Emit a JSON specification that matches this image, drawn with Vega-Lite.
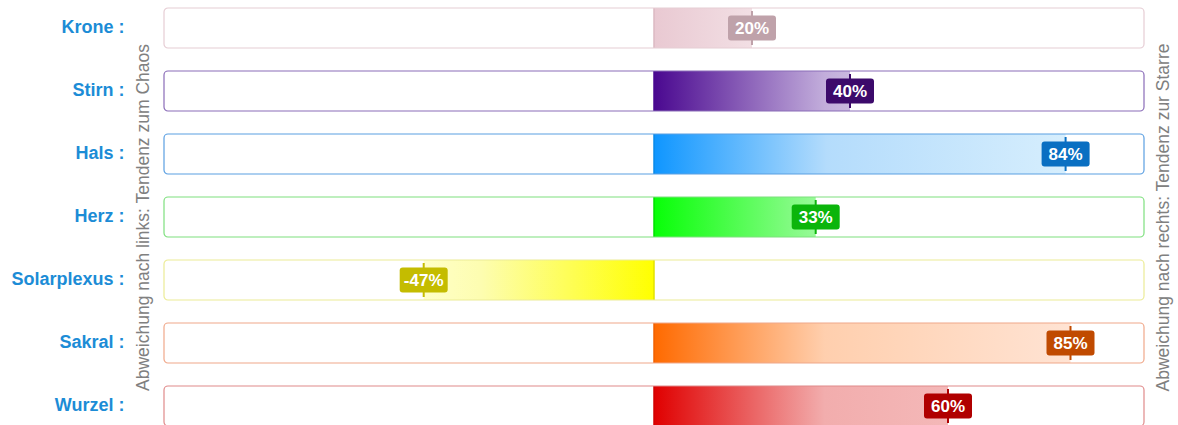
{
  "$schema": "https://vega.github.io/schema/vega-lite/v6.json",
  "width": 980,
  "height": 418,
  "autosize": {"type": "none"},
  "padding": {"left": 164, "top": 8, "right": 34, "bottom": 0},
  "background": "white",
  "config": {"view": {"stroke": null}, "font": "Liberation Sans"},
  "data": {
    "values": [
      {"row": "Krone", "value": 20, "label": "20%"},
      {"row": "Stirn", "value": 40, "label": "40%"},
      {"row": "Hals", "value": 84, "label": "84%"},
      {"row": "Herz", "value": 33, "label": "33%"},
      {"row": "Solarplexus", "value": -47, "label": "-47%"},
      {"row": "Sakral", "value": 85, "label": "85%"},
      {"row": "Wurzel", "value": 60, "label": "60%"}
    ]
  },
  "resolve": {"axis": {"y": "independent"}},
  "layer": [
    {
      "mark": {"type": "bar", "fill": "white", "strokeWidth": 0, "cornerRadius": 4},
      "encoding": {
        "y": {
          "field": "row", "type": "nominal",
          "sort": ["Krone", "Stirn", "Hals", "Herz", "Solarplexus", "Sakral", "Wurzel"],
          "scale": {"paddingInner": 0.365, "paddingOuter": 0},
          "axis": {
            "orient": "left",
            "title": "Abweichung nach links: Tendenz zum Chaos",
            "domain": false, "ticks": false, "grid": false,
            "labelPadding": 40,
            "labelFont": "Liberation Sans", "labelFontSize": 18, "labelFontWeight": "bold",
            "labelColor": "#1c8cd6",
            "labelExpr": "datum.label + ' :'",
            "titleX": -21, "titleY": 209, "titleAngle": -90,
            "titleAlign": "center", "titleBaseline": "middle",
            "titleFont": "Liberation Sans", "titleFontSize": 17.5, "titleFontWeight": "normal",
            "titleColor": "#808080"
          }
        },
        "x": {"datum": -100, "type": "quantitative", "scale": {"domain": [-100, 100], "nice": false, "zero": false}, "axis": null},
        "x2": {"datum": 100}
      }
    },
    {
      "transform": [{"filter": "datum.row === 'Krone'"}],
      "mark": {"type": "bar", "color": {"gradient": "linear", "x1": 0, "y1": 0, "x2": 1, "y2": 0, "stops": [{"offset": 0, "color": "#e9c9d2"}, {"offset": 1, "color": "#f2dfe4"}]}},
      "encoding": {"y": {"field": "row", "type": "nominal", "sort": ["Krone", "Stirn", "Hals", "Herz", "Solarplexus", "Sakral", "Wurzel"], "axis": null}, "x": {"field": "value", "type": "quantitative", "axis": null}, "x2": {"datum": 0}}
    },
    {
      "transform": [{"filter": "datum.row === 'Stirn'"}],
      "mark": {"type": "bar", "color": {"gradient": "linear", "x1": 0, "y1": 0, "x2": 1, "y2": 0, "stops": [{"offset": 0, "color": "#4a0890"}, {"offset": 0.87, "color": "#c2addb"}, {"offset": 1, "color": "#c9b8de"}]}},
      "encoding": {"y": {"field": "row", "type": "nominal", "sort": ["Krone", "Stirn", "Hals", "Herz", "Solarplexus", "Sakral", "Wurzel"], "axis": null}, "x": {"field": "value", "type": "quantitative", "axis": null}, "x2": {"datum": 0}}
    },
    {
      "transform": [{"filter": "datum.row === 'Hals'"}],
      "mark": {"type": "bar", "color": {"gradient": "linear", "x1": 0, "y1": 0, "x2": 1, "y2": 0, "stops": [{"offset": 0, "color": "#0f96ff"}, {"offset": 0.42, "color": "#b4dcfc"}, {"offset": 1, "color": "#d6eefd"}]}},
      "encoding": {"y": {"field": "row", "type": "nominal", "sort": ["Krone", "Stirn", "Hals", "Herz", "Solarplexus", "Sakral", "Wurzel"], "axis": null}, "x": {"field": "value", "type": "quantitative", "axis": null}, "x2": {"datum": 0}}
    },
    {
      "transform": [{"filter": "datum.row === 'Herz'"}],
      "mark": {"type": "bar", "color": {"gradient": "linear", "x1": 0, "y1": 0, "x2": 1, "y2": 0, "stops": [{"offset": 0, "color": "#08ff08"}, {"offset": 1, "color": "#98fa98"}]}},
      "encoding": {"y": {"field": "row", "type": "nominal", "sort": ["Krone", "Stirn", "Hals", "Herz", "Solarplexus", "Sakral", "Wurzel"], "axis": null}, "x": {"field": "value", "type": "quantitative", "axis": null}, "x2": {"datum": 0}}
    },
    {
      "transform": [{"filter": "datum.row === 'Solarplexus'"}],
      "mark": {"type": "bar", "color": {"gradient": "linear", "x1": 1, "y1": 0, "x2": 0, "y2": 0, "stops": [{"offset": 0, "color": "#ffff00"}, {"offset": 0.75, "color": "#fdfdb0"}, {"offset": 1, "color": "#ffffc8"}]}},
      "encoding": {"y": {"field": "row", "type": "nominal", "sort": ["Krone", "Stirn", "Hals", "Herz", "Solarplexus", "Sakral", "Wurzel"], "axis": null}, "x": {"field": "value", "type": "quantitative", "axis": null}, "x2": {"datum": 0}}
    },
    {
      "transform": [{"filter": "datum.row === 'Sakral'"}],
      "mark": {"type": "bar", "color": {"gradient": "linear", "x1": 0, "y1": 0, "x2": 1, "y2": 0, "stops": [{"offset": 0, "color": "#ff6a00"}, {"offset": 0.41, "color": "#ffcfae"}, {"offset": 1, "color": "#ffe3d3"}]}},
      "encoding": {"y": {"field": "row", "type": "nominal", "sort": ["Krone", "Stirn", "Hals", "Herz", "Solarplexus", "Sakral", "Wurzel"], "axis": null}, "x": {"field": "value", "type": "quantitative", "axis": null}, "x2": {"datum": 0}}
    },
    {
      "transform": [{"filter": "datum.row === 'Wurzel'"}],
      "mark": {"type": "bar", "color": {"gradient": "linear", "x1": 0, "y1": 0, "x2": 1, "y2": 0, "stops": [{"offset": 0, "color": "#e00000"}, {"offset": 0.58, "color": "#f2adad"}, {"offset": 1, "color": "#f4b8b8"}]}},
      "encoding": {"y": {"field": "row", "type": "nominal", "sort": ["Krone", "Stirn", "Hals", "Herz", "Solarplexus", "Sakral", "Wurzel"], "axis": null}, "x": {"field": "value", "type": "quantitative", "axis": null}, "x2": {"datum": 0}}
    },
    {
      "mark": {"type": "tick", "thickness": 1.5, "size": 40, "opacity": 1},
      "encoding": {
        "y": {"field": "row", "type": "nominal", "sort": ["Krone", "Stirn", "Hals", "Herz", "Solarplexus", "Sakral", "Wurzel"], "axis": null},
        "x": {"datum": 0, "type": "quantitative", "axis": null},
        "fill": {"field": "row", "type": "nominal", "legend": null,
          "scale": {"domain": ["Krone", "Stirn", "Hals", "Herz", "Solarplexus", "Sakral", "Wurzel"],
            "range": ["#dbb8c2", "#4a0890", "#0a8ae8", "#00e000", "#e2e200", "#f06000", "#d00000"]}}
      }
    },
    {
      "mark": {"type": "bar", "fill": null, "fillOpacity": 0, "strokeWidth": 1.2, "cornerRadius": 4},
      "encoding": {
        "y": {"field": "row", "type": "nominal", "sort": ["Krone", "Stirn", "Hals", "Herz", "Solarplexus", "Sakral", "Wurzel"], "axis": null},
        "x": {"datum": -100, "type": "quantitative", "axis": null},
        "x2": {"datum": 100},
        "stroke": {"field": "row", "type": "nominal", "legend": null,
          "scale": {"domain": ["Krone", "Stirn", "Hals", "Herz", "Solarplexus", "Sakral", "Wurzel"],
            "range": ["#e6cdd4", "#8a6cb8", "#5a9fe2", "#7ee07e", "#ecec96", "#f0a88a", "#e08a8a"]}}
      }
    },
    {
      "mark": {"type": "tick", "thickness": 2, "size": 34, "opacity": 1},
      "encoding": {
        "y": {"field": "row", "type": "nominal", "sort": ["Krone", "Stirn", "Hals", "Herz", "Solarplexus", "Sakral", "Wurzel"], "axis": null},
        "x": {"field": "value", "type": "quantitative", "axis": null},
        "color": {"field": "row", "type": "nominal", "legend": null,
          "scale": {"domain": ["Krone", "Stirn", "Hals", "Herz", "Solarplexus", "Sakral", "Wurzel"],
            "range": ["#bfa2aa", "#3c0a6b", "#0a6fc2", "#0bb50b", "#c4bc00", "#c04a00", "#b00000"]}}
      }
    },
    {
      "mark": {"type": "point", "filled": true, "opacity": 1, "strokeWidth": 0, "size": 2304,
        "shape": "M-0.875,-0.52L0.875,-0.52Q1,-0.52,1,-0.395L1,0.395Q1,0.52,0.875,0.52L-0.875,0.52Q-1,0.52,-1,0.395L-1,-0.395Q-1,-0.52,-0.875,-0.52Z"},
      "encoding": {
        "y": {"field": "row", "type": "nominal", "sort": ["Krone", "Stirn", "Hals", "Herz", "Solarplexus", "Sakral", "Wurzel"], "axis": null},
        "x": {"field": "value", "type": "quantitative", "axis": null},
        "color": {"field": "row", "type": "nominal", "legend": null}
      }
    },
    {
      "mark": {"type": "text", "color": "white", "font": "Liberation Sans", "fontSize": 17, "fontWeight": "bold", "baseline": "middle", "align": "center", "dy": 1},
      "encoding": {
        "y": {"field": "row", "type": "nominal",
          "sort": ["Krone", "Stirn", "Hals", "Herz", "Solarplexus", "Sakral", "Wurzel"],
          "axis": {
            "orient": "right",
            "title": "Abweichung nach rechts: Tendenz zur Starre",
            "labels": false, "domain": false, "ticks": false, "grid": false,
            "titleX": 19, "titleY": 209, "titleAngle": -90,
            "titleAlign": "center", "titleBaseline": "middle",
            "titleFont": "Liberation Sans", "titleFontSize": 17.5, "titleFontWeight": "normal",
            "titleColor": "#808080"
          }
        },
        "x": {"field": "value", "type": "quantitative", "axis": null},
        "text": {"field": "label", "type": "nominal"}
      }
    }
  ]
}
